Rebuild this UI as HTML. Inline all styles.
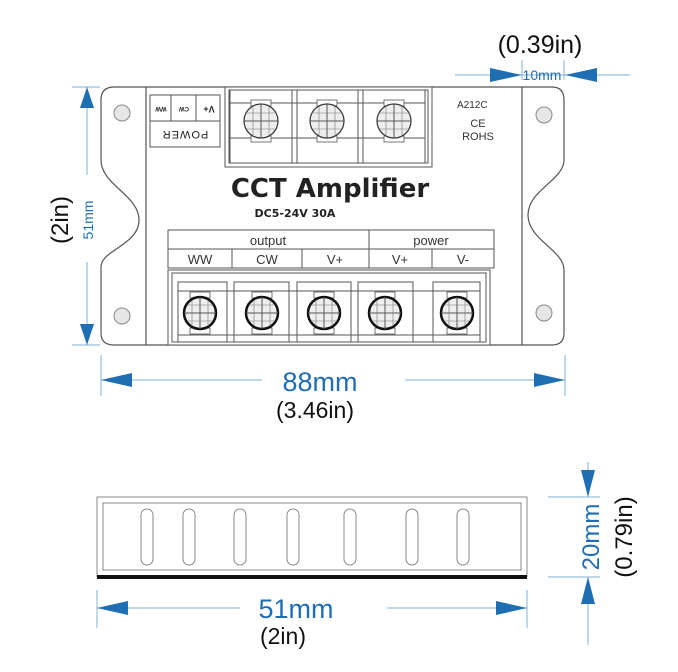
<!DOCTYPE html>
<html><head><style>html,body{margin:0;padding:0;background:#fff}svg{display:block}</style></head>
<body>
<svg width="678" height="672" viewBox="0 0 678 672" xmlns="http://www.w3.org/2000/svg" font-family="Liberation Sans, sans-serif">
<defs>
<g id="scr">
  <rect x="-10" y="-21" width="20" height="6" fill="#fff" stroke="#555" stroke-width="0.8"/>
  <rect x="-10" y="15" width="20" height="6" fill="#fff" stroke="#555" stroke-width="0.8"/>
  <circle r="17" fill="#eee" stroke="#333" stroke-width="1.2"/>
  <line x1="-17" y1="0" x2="17" y2="0" stroke="#555"/>
  <line x1="0" y1="-17" x2="0" y2="17" stroke="#555"/>
  <line x1="-14" y1="-8" x2="14" y2="-8" stroke="#777" stroke-width="0.6"/>
  <line x1="-14" y1="8" x2="14" y2="8" stroke="#777" stroke-width="0.6"/>
  <line x1="-8" y1="-14" x2="-8" y2="14" stroke="#777" stroke-width="0.6"/>
  <line x1="8" y1="-14" x2="8" y2="14" stroke="#777" stroke-width="0.6"/>
</g>
<g id="scrb">
  <rect x="-10" y="-21" width="20" height="6" fill="#fff" stroke="#555" stroke-width="0.8"/>
  <rect x="-10" y="15" width="20" height="6" fill="#fff" stroke="#555" stroke-width="0.8"/>
  <circle r="16" fill="#eee" stroke="#111" stroke-width="2.5"/>
  <line x1="-16" y1="0" x2="16" y2="0" stroke="#555"/>
  <line x1="0" y1="-16" x2="0" y2="16" stroke="#555"/>
  <line x1="-13" y1="-8" x2="13" y2="-8" stroke="#777" stroke-width="0.6"/>
  <line x1="-13" y1="8" x2="13" y2="8" stroke="#777" stroke-width="0.6"/>
  <line x1="-8" y1="-13" x2="-8" y2="13" stroke="#777" stroke-width="0.6"/>
  <line x1="8" y1="-13" x2="8" y2="13" stroke="#777" stroke-width="0.6"/>
</g>
</defs>

<!-- body outline -->
<path d="M114 87 L552 87 Q564 87 564 100 L564 160 C564 180 528 190 528 215 C528 240 564 250 564 270 L564 333 Q564 345 552 345 L114 345 Q101 345 101 333 L101 267 C101 250 139 245 139 220 C139 195 101 185 101 160 L101 100 Q101 87 114 87 Z" fill="#fff" stroke="#555" stroke-width="1.2"/>
<line x1="146" y1="87" x2="146" y2="345" stroke="#555" stroke-width="1.2"/>
<line x1="522" y1="87" x2="522" y2="345" stroke="#555" stroke-width="1.2"/>
<g fill="#e6e6e6" stroke="#888" stroke-width="1">
<circle cx="122" cy="113" r="8"/><circle cx="122" cy="316" r="8"/>
<circle cx="544" cy="115" r="8"/><circle cx="544" cy="313" r="8"/>
</g>

<!-- power label -->
<rect x="150" y="95" width="70" height="52" fill="#fff" stroke="#555"/>
<line x1="150" y1="121" x2="220" y2="121" stroke="#555"/>
<line x1="171" y1="95" x2="171" y2="121" stroke="#555"/>
<line x1="196" y1="95" x2="196" y2="121" stroke="#555"/>
<g transform="rotate(180 185 121)" font-size="7" font-weight="bold" fill="#222" text-anchor="middle">
<text x="209" y="135" font-size="6">WW</text><text x="186" y="135" font-size="6">CW</text><text x="161" y="136" font-size="9">V+</text>
<text x="185" y="111" font-size="11" font-weight="normal" letter-spacing="1">POWER</text>
</g>

<!-- top terminal block -->
<rect x="225" y="87" width="207" height="80" fill="#fff" stroke="#555"/>
<rect x="229" y="90" width="199" height="73" fill="#fff" stroke="#555"/>
<g stroke="#555" fill="none">
<rect x="230" y="90" width="62" height="73"/><rect x="297" y="90" width="61" height="73"/><rect x="363" y="90" width="62" height="73"/>
<line x1="230" y1="103" x2="425" y2="103"/><line x1="230" y1="138" x2="425" y2="138"/>
</g>
<use href="#scr" x="261" y="121"/><use href="#scr" x="327" y="121"/><use href="#scr" x="394" y="121"/>

<text x="457" y="108" font-size="10" fill="#333">A212C</text>
<text x="478" y="127" font-size="11" fill="#333" text-anchor="middle">CE</text>
<text x="478" y="140" font-size="11" fill="#333" text-anchor="middle">ROHS</text>

<text x="330" y="197" font-family="DejaVu Sans, sans-serif" font-size="26" font-weight="bold" fill="#222" text-anchor="middle">CCT Amplifier</text>
<text x="295" y="217" font-family="DejaVu Sans, sans-serif" font-size="11" font-weight="bold" fill="#222" text-anchor="middle">DC5-24V  30A</text>

<!-- table -->
<g stroke="#555" fill="none">
<rect x="168" y="230" width="326" height="38"/>
<line x1="168" y1="249" x2="494" y2="249"/>
<line x1="369" y1="230" x2="369" y2="268"/>
<line x1="232" y1="249" x2="232" y2="268"/><line x1="302" y1="249" x2="302" y2="268"/><line x1="432" y1="249" x2="432" y2="268"/>
</g>
<g font-size="13" fill="#333" text-anchor="middle">
<text x="268" y="245">output</text><text x="431" y="245">power</text>
<text x="200" y="264">WW</text><text x="267" y="264">CW</text><text x="335" y="264">V+</text><text x="400" y="264">V+</text><text x="463" y="264">V-</text>
</g>

<!-- bottom terminal block -->
<rect x="168" y="270" width="322" height="75" fill="#fff" stroke="#555"/>
<rect x="172" y="273" width="314" height="69" fill="#fff" stroke="#555"/>
<g stroke="#555" fill="none">
<rect x="178" y="282" width="49" height="60"/><rect x="234" y="282" width="55" height="60"/><rect x="297" y="282" width="54" height="60"/><rect x="358" y="282" width="55" height="60"/><rect x="433" y="282" width="47" height="60"/>
<line x1="178" y1="291" x2="480" y2="291"/><line x1="178" y1="335" x2="480" y2="335"/>
</g>
<use href="#scrb" x="200" y="313"/><use href="#scrb" x="262" y="313"/><use href="#scrb" x="324" y="313"/><use href="#scrb" x="385" y="313"/><use href="#scrb" x="457" y="313"/>

<!-- dimensions -->
<g stroke="#7fb0d8" stroke-width="1">
<line x1="72" y1="87" x2="100" y2="87"/><line x1="72" y1="345" x2="100" y2="345"/>
<line x1="87" y1="87" x2="87" y2="175"/><line x1="87" y1="262" x2="87" y2="345"/>
<line x1="101" y1="355" x2="101" y2="396"/><line x1="565" y1="355" x2="565" y2="396"/>
<line x1="101" y1="380" x2="262" y2="380"/><line x1="405" y1="380" x2="565" y2="380"/>
<line x1="455" y1="75" x2="630" y2="75"/><line x1="522" y1="60" x2="522" y2="80"/><line x1="564" y1="60" x2="564" y2="80"/>
<line x1="97" y1="590" x2="97" y2="628"/><line x1="527" y1="590" x2="527" y2="628"/>
<line x1="97" y1="608" x2="240" y2="608"/><line x1="387" y1="608" x2="527" y2="608"/>
<line x1="548" y1="497" x2="600" y2="497"/><line x1="548" y1="577" x2="600" y2="577"/>
<line x1="588" y1="462" x2="588" y2="497"/><line x1="588" y1="577" x2="588" y2="645"/>
</g>
<g fill="#1f6db3">
<polygon points="87,87 80,108 94,108"/><polygon points="87,345 80,324 94,324"/>
<polygon points="101,380 132,373 132,387"/><polygon points="565,380 534,373 534,387"/>
<polygon points="522,75 490,68 490,82"/><polygon points="565,75 597,68 597,82"/>
<polygon points="97,608 128,601 128,615"/><polygon points="527,608 496,601 496,615"/>
<polygon points="588,497 581,470 595,470"/><polygon points="588,577 581,604 595,604"/>
</g>
<text transform="translate(93 220) rotate(-90)" font-size="14" fill="#1f6db3" text-anchor="middle">51mm</text>
<text transform="translate(68 220) rotate(-90)" font-size="24" fill="#111" text-anchor="middle">(2in)</text>
<text x="320" y="391" font-size="27" fill="#1f6db3" text-anchor="middle">88mm</text>
<text x="315" y="418" font-size="23" fill="#111" text-anchor="middle">(3.46in)</text>
<text x="540" y="53" font-size="25" fill="#111" text-anchor="middle">(0.39in)</text>
<text x="542" y="80" font-size="14" fill="#1f6db3" text-anchor="middle">10mm</text>
<text x="296" y="618" font-size="27" fill="#1f6db3" text-anchor="middle">51mm</text>
<text x="283" y="644" font-size="23" fill="#111" text-anchor="middle">(2in)</text>
<text transform="translate(599 537) rotate(-90)" font-size="24" fill="#1f6db3" text-anchor="middle">20mm</text>
<text transform="translate(632 537) rotate(-90)" font-size="24" fill="#111" text-anchor="middle">(0.79in)</text>

<!-- side view -->
<rect x="97" y="497" width="430" height="80" fill="#fff" stroke="#888"/>
<rect x="103" y="503" width="418" height="67" fill="#fff" stroke="#888"/>
<rect x="97" y="575" width="430" height="4" fill="#111"/>
<g fill="#fff" stroke="#888">
<rect x="141" y="509" width="12" height="56" rx="6"/><rect x="183" y="509" width="12" height="56" rx="6"/><rect x="234" y="509" width="12" height="56" rx="6"/><rect x="287" y="509" width="12" height="56" rx="6"/><rect x="344" y="509" width="12" height="56" rx="6"/><rect x="406" y="509" width="12" height="56" rx="6"/><rect x="457" y="509" width="12" height="56" rx="6"/>
</g>
</svg>
</body></html>
